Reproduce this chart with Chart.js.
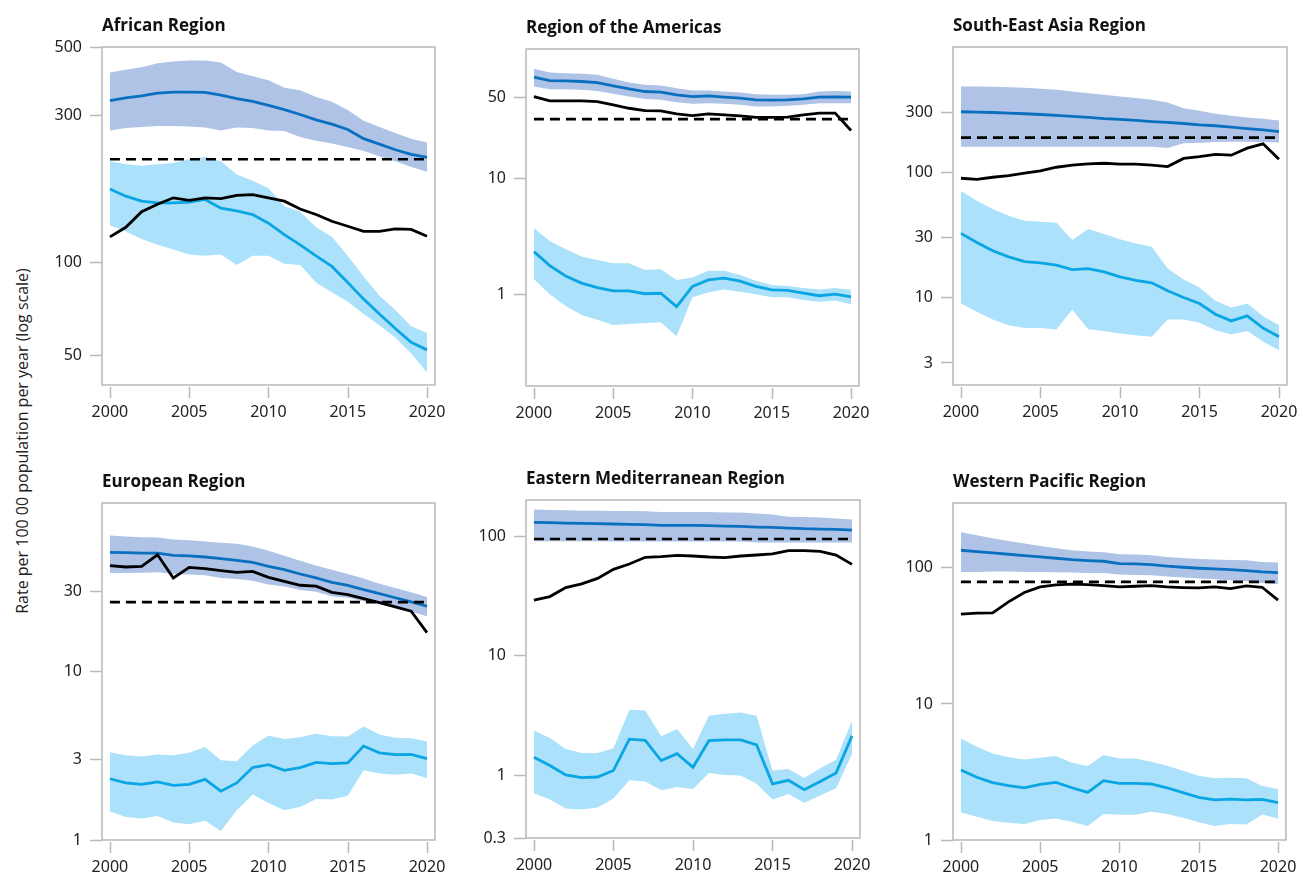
<!DOCTYPE html>
<html>
<head>
<meta charset="utf-8">
<title>TB incidence by WHO region</title>
<script src="https://cdn.jsdelivr.net/npm/chart.js@4.4.1/dist/chart.umd.min.js"></script>
<style>
  html, body { margin: 0; padding: 0; background: #fff; }
  #page { position: relative; width: 1306px; height: 878px; overflow: hidden; }
  #page canvas { position: absolute; }
  #ylab {
    position: absolute; left: 22px; top: 441px;
    transform: translate(-50%, -50%) rotate(-90deg);
    white-space: nowrap; font: 16px "Open Sans", sans-serif; color: #222;
  }
</style>
</head>
<body>
<div id="page">
  <div id="ylab">Rate per 100 00 population per year (log scale)</div>
</div>
<script>
const years = [2000, 2001, 2002, 2003, 2004, 2005, 2006, 2007, 2008, 2009, 2010,
  2011, 2012, 2013, 2014, 2015, 2016, 2017, 2018, 2019, 2020];
const xTicks = [2000, 2005, 2010, 2015, 2020];

// African Region
const afrTicks = [50, 100, 300, 500];
const afrTotalHi = [413, 422, 430, 443, 449, 452, 452, 445, 415, 402, 390, 369, 362, 344, 332, 312, 288, 275, 263, 252, 245];
const afrTotal = [335, 342, 347, 354, 357, 357, 356, 349, 340, 333, 323, 313, 302, 290, 281, 270, 252, 242, 232, 224, 219];
const afrTotalLo = [268, 273, 275, 277, 277, 276, 274, 268, 274, 273, 268, 267, 255, 248, 243, 237, 230, 221, 213, 204, 197];
const afrHivHi = [213, 208, 206, 208, 210, 216, 220, 213, 193, 184, 174, 152, 146, 130, 121, 105, 90, 78, 70, 62, 59];
const afrHiv = [173, 164, 158, 156, 156, 157, 160, 150, 147, 143, 134, 123, 114, 105, 97, 86, 76, 68, 61, 55, 52];
const afrHivLo = [132, 126, 119, 114, 110, 106, 105, 106, 98, 105, 105, 99, 98, 86, 80, 74.5, 68, 62.5, 57, 50.6, 44];
const afrNotif = [121, 130, 146, 154.5, 162, 159, 162, 161, 165, 166, 162, 158, 149, 143, 136, 131, 126, 126, 128.5, 128, 121.5];
const afrMilestone = 216;

// Region of the Americas
const amrTicks = [1, 10, 50];
const amrTotalHi = [87.8, 81.6, 80.5, 79.5, 77.9, 72.0, 66.9, 63.9, 63.1, 59.8, 57.1, 57.1, 56.0, 54.9, 53.1, 52.4, 52.4, 53.1, 56.0, 56.7, 56.0];
const amrTotal = [74.4, 69.6, 69.2, 68.3, 66.9, 62.6, 59.0, 56.0, 55.3, 52.4, 50.7, 51.4, 50.1, 49.1, 47.5, 47.2, 47.5, 48.4, 50.1, 50.4, 50.1];
const amrTotalLo = [61.8, 58.7, 58.7, 57.9, 56.7, 53.5, 50.7, 48.4, 47.5, 45.3, 43.9, 44.4, 43.9, 43.0, 41.6, 41.6, 42.2, 43.0, 44.4, 44.4, 44.4];
const amrHivHi = [3.73, 2.90, 2.46, 2.13, 1.99, 1.87, 1.87, 1.63, 1.66, 1.34, 1.41, 1.61, 1.61, 1.48, 1.32, 1.21, 1.19, 1.14, 1.11, 1.14, 1.10];
const amrHiv = [2.35, 1.78, 1.45, 1.26, 1.15, 1.08, 1.08, 1.02, 1.03, 0.79, 1.18, 1.34, 1.39, 1.31, 1.18, 1.10, 1.09, 1.03, 0.98, 1.01, 0.96];
const amrHivLo = [1.36, 1.01, 0.80, 0.67, 0.61, 0.55, 0.56, 0.57, 0.58, 0.44, 0.95, 1.05, 1.11, 1.06, 1.01, 0.95, 0.95, 0.90, 0.87, 0.89, 0.83];
const amrNotif = [50.7, 46.5, 46.5, 46.5, 45.9, 43.0, 40.2, 38.4, 38.2, 36.0, 34.8, 36.0, 35.3, 34.6, 33.5, 33.5, 33.7, 35.3, 36.5, 36.5, 25.9];
const amrMilestone = 32.4;

// South-East Asia Region
const searTicks = [3, 10, 30, 100, 300];
const searTotalHi = [484, 484, 481, 478, 473, 464, 455, 441, 428, 415, 403, 391, 379, 361, 325, 309, 293, 282, 274, 267, 259];
const searTotal = [304, 302, 300, 296, 293, 289, 284, 279, 274, 268, 264, 259, 254, 250, 245, 239, 235, 229, 223, 218, 211];
const searTotalLo = [160, 160, 160, 160, 160, 160, 160, 160, 160, 160, 160, 160, 160, 156, 170, 172, 174, 175, 175, 174, 173];
const searHivHi = [70.9, 59.3, 50.9, 45.0, 41.0, 40.3, 39.5, 28.7, 35.2, 32.1, 29.1, 27.0, 25.4, 17.0, 13.9, 12.0, 9.4, 8.3, 8.95, 7.08, 6.0];
const searHiv = [32.5, 27.5, 23.6, 21.1, 19.3, 18.9, 18.1, 16.7, 17.0, 16.0, 14.6, 13.7, 13.1, 11.3, 10.0, 8.95, 7.35, 6.5, 7.13, 5.7, 4.85];
const searHivLo = [8.95, 7.68, 6.67, 6.0, 5.7, 5.7, 5.54, 8.0, 5.57, 5.4, 5.15, 5.0, 4.85, 6.67, 6.67, 6.27, 5.48, 5.05, 5.4, 4.42, 3.79];
const searNotif = [89.5, 87.8, 91.2, 94, 98.2, 102.4, 109.6, 114, 116.5, 118, 116, 116, 114, 111, 129, 133, 139, 136.8, 155.6, 168.5, 127];
const searMilestone = 189;

// European Region
const eurTicks = [1, 3, 10, 30];
const eurTotalHi = [64.1, 63.3, 62.7, 62.4, 60.8, 60.2, 59.1, 58.0, 57.3, 55.2, 52.1, 48.6, 45.4, 42.5, 40.2, 37.9, 35.6, 33.2, 31.3, 29.5, 27.7];
const eurTotal = [50.9, 50.7, 50.4, 50.4, 48.9, 48.6, 47.8, 46.7, 45.6, 44.4, 42.1, 40.2, 37.9, 35.9, 33.8, 32.4, 30.6, 29.0, 27.4, 25.9, 24.4];
const eurTotalLo = [38.4, 38.4, 38.6, 38.8, 37.9, 37.6, 37.2, 35.9, 35.4, 34.6, 32.8, 31.9, 30.5, 29.7, 28.0, 27.4, 26.1, 25.2, 23.9, 22.6, 21.3];
const eurHivHi = [3.32, 3.18, 3.13, 3.22, 3.18, 3.29, 3.56, 2.97, 2.93, 3.64, 4.17, 3.98, 4.07, 4.27, 4.13, 4.11, 4.71, 4.23, 4.04, 4.02, 3.84];
const eurHiv = [2.31, 2.18, 2.14, 2.21, 2.11, 2.14, 2.29, 1.95, 2.18, 2.69, 2.80, 2.59, 2.69, 2.89, 2.84, 2.87, 3.61, 3.29, 3.21, 3.22, 3.04];
const eurHivLo = [1.48, 1.37, 1.34, 1.39, 1.27, 1.24, 1.30, 1.13, 1.50, 1.86, 1.66, 1.50, 1.57, 1.75, 1.74, 1.83, 2.59, 2.48, 2.44, 2.48, 2.33];
const eurNotif = [42.5, 41.7, 42.1, 49.3, 35.9, 41.5, 40.8, 39.7, 38.8, 39.3, 36.2, 34.3, 32.5, 32.1, 29.5, 28.6, 27.1, 25.6, 24.2, 22.8, 17.0];
const eurMilestone = 25.8;

// Eastern Mediterranean Region
const emrTicks = [0.3, 1, 10, 100];
const emrTotalHi = [167, 165, 164, 163, 163, 162, 162, 161, 158.6, 158.6, 158.6, 158.6, 157.6, 157.6, 154.6, 151.6, 145, 144, 143, 140, 137.7];
const emrTotal = [130, 129.2, 128.4, 127.6, 126.8, 126, 125.2, 124.3, 122.7, 122.7, 122.7, 122, 121.2, 120.4, 118.9, 118.1, 116.6, 115.1, 114.4, 113.7, 112.2];
const emrTotalLo = [90.5, 90.5, 90.5, 90.5, 90.5, 90, 90, 90, 90, 90, 90, 90, 90, 90, 88.5, 88.5, 88.5, 88.5, 88.5, 88.5, 88.5];
const emrHivHi = [2.37, 2.05, 1.66, 1.54, 1.54, 1.69, 3.53, 3.49, 2.12, 2.44, 1.66, 3.15, 3.27, 3.36, 3.15, 1.10, 1.13, 0.95, 1.15, 1.35, 2.86];
const emrHiv = [1.42, 1.21, 1.01, 0.96, 0.97, 1.10, 2.01, 1.96, 1.33, 1.52, 1.17, 1.95, 1.98, 1.98, 1.80, 0.85, 0.91, 0.76, 0.89, 1.05, 2.14];
const emrHivLo = [0.71, 0.63, 0.53, 0.52, 0.54, 0.64, 0.91, 0.89, 0.75, 0.80, 0.77, 1.05, 1.01, 1.0, 0.85, 0.63, 0.70, 0.59, 0.68, 0.78, 1.51];
const emrNotif = [29.2, 31.2, 37.1, 39.8, 44.3, 52.7, 58.4, 66.4, 67.2, 69.0, 68.1, 66.8, 66.0, 68.1, 69.4, 70.8, 75.4, 75.4, 74.5, 69.4, 58.0];
const emrMilestone = 94.4;

// Western Pacific Region
const wprTicks = [1, 10, 100];
const wprTotalHi = [183, 174, 165, 158, 151, 145, 139.5, 134.8, 131.8, 130.3, 126, 125.3, 123.9, 120.4, 118.4, 116.4, 115.1, 114.5, 113.8, 110.7, 109.4];
const wprTotal = [134.8, 131.8, 128.8, 126, 123.2, 120.4, 117.8, 115.1, 113.2, 111.9, 107.6, 107, 105.8, 102.9, 101.1, 99.4, 98.3, 97.2, 95.6, 93.5, 92.4];
const wprTotalLo = [93.5, 93.5, 94.0, 94.0, 93.5, 93.5, 92.9, 92.4, 91.9, 91.9, 89.3, 88.8, 88.3, 86.4, 84.9, 83.5, 82.6, 81.2, 79.8, 77.6, 75.9];
const wprHivHi = [5.58, 4.85, 4.33, 4.05, 3.91, 4.02, 4.14, 3.70, 3.50, 4.21, 3.98, 3.98, 3.76, 3.52, 3.23, 2.97, 2.84, 2.87, 2.84, 2.49, 2.37];
const wprHiv = [3.27, 2.89, 2.64, 2.51, 2.42, 2.56, 2.65, 2.42, 2.24, 2.73, 2.61, 2.61, 2.58, 2.42, 2.23, 2.06, 1.97, 2.0, 1.97, 1.99, 1.88];
const wprHivLo = [1.59, 1.48, 1.38, 1.34, 1.31, 1.40, 1.44, 1.36, 1.27, 1.55, 1.53, 1.53, 1.61, 1.55, 1.46, 1.35, 1.27, 1.31, 1.30, 1.54, 1.44];
const wprNotif = [45.7, 46.5, 46.7, 56.3, 65.9, 72.5, 75.0, 75.9, 75.4, 74.2, 72.5, 73.3, 74.2, 72.5, 71.7, 71.3, 72.5, 70.5, 73.8, 72.1, 57.9];
const wprMilestone = 78.9;

// colours
const DARK_BAND = '#aec3e6';
const DARK_LINE = '#0a6fbf';
const LIGHT_BAND = '#abe1fa';
const LIGHT_LINE = '#0aa5e3';
const AXIS_GREY = '#b8b8b8';

Chart.defaults.font.family = "'Noto Sans', sans-serif";
Chart.defaults.font.size = 16;
Chart.defaults.color = '#222';

// room around each plot box inside its canvas
const PAD_L = 100, PAD_T = 40, PAD_R = 22, PAD_B = 45;

const panels = [
  { title: 'African Region', box: [102, 47, 442, 385], yMin: 40, yMax: 500, yTicks: afrTicks,
    hi: afrTotalHi, mid: afrTotal, lo: afrTotalLo, hivHi: afrHivHi, hiv: afrHiv, hivLo: afrHivLo, notif: afrNotif, goal: afrMilestone },
  { title: 'Region of the Americas', box: [526, 49, 866, 386], yMin: 0.164, yMax: 130, yTicks: amrTicks,
    hi: amrTotalHi, mid: amrTotal, lo: amrTotalLo, hivHi: amrHivHi, hiv: amrHiv, hivLo: amrHivLo, notif: amrNotif, goal: amrMilestone },
  { title: 'South-East Asia Region', box: [953, 47, 1294, 385], yMin: 2, yMax: 1000, yTicks: searTicks,
    hi: searTotalHi, mid: searTotal, lo: searTotalLo, hivHi: searHivHi, hiv: searHiv, hivLo: searHivLo, notif: searNotif, goal: searMilestone },
  { title: 'European Region', box: [102, 503, 442, 840], yMin: 1, yMax: 100, yTicks: eurTicks,
    hi: eurTotalHi, mid: eurTotal, lo: eurTotalLo, hivHi: eurHivHi, hiv: eurHiv, hivLo: eurHivLo, notif: eurNotif, goal: eurMilestone },
  { title: 'Eastern Mediterranean Region', box: [526, 500, 867, 838], yMin: 0.3, yMax: 200, yTicks: emrTicks,
    hi: emrTotalHi, mid: emrTotal, lo: emrTotalLo, hivHi: emrHivHi, hiv: emrHiv, hivLo: emrHivLo, notif: emrNotif, goal: emrMilestone },
  { title: 'Western Pacific Region', box: [953, 503, 1293, 840], yMin: 1, yMax: 300, yTicks: wprTicks,
    hi: wprTotalHi, mid: wprTotal, lo: wprTotalLo, hivHi: wprHivHi, hiv: wprHiv, hivLo: wprHivLo, notif: wprNotif, goal: wprMilestone }
];

// grey frame round the plot, and x tick marks set a little below it
const framePlugin = {
  id: 'frame',
  beforeDatasetsDraw(chart) {
    const { ctx, chartArea: a } = chart;
    const x = chart.scales.x;
    ctx.save();
    ctx.strokeStyle = AXIS_GREY;
    ctx.lineWidth = 1.5;
    ctx.strokeRect(a.left, a.top, a.right - a.left, a.bottom - a.top);
    ctx.beginPath();
    x.ticks.forEach(function(t) {
      const px = Math.round(x.getPixelForValue(t.value)) + 0.5;
      ctx.moveTo(px, a.bottom + 2);
      ctx.lineTo(px, a.bottom + 13);
    });
    ctx.stroke();
    ctx.restore();
  }
};

function points(values) {
  return years.map(function(yr, i) { return { x: yr, y: values[i] }; });
}

function band(values, fill, colour) {
  return {
    data: points(values), fill: fill, backgroundColor: colour,
    borderColor: 'rgba(0,0,0,0)', borderWidth: 1, pointRadius: 0, order: 5
  };
}

function line(values, colour, order) {
  return {
    data: points(values), fill: false, borderColor: colour,
    borderWidth: 2.8, pointRadius: 0, order: order
  };
}

const page = document.getElementById('page');

panels.forEach(function(p) {
  const [l, t, r, b] = p.box;
  const w = (r - l) + PAD_L + PAD_R;
  const h = (b - t) + PAD_T + PAD_B;
  const cv = document.createElement('canvas');
  cv.width = w;
  cv.height = h;
  cv.style.left = (l - PAD_L) + 'px';
  cv.style.top = (t - PAD_T) + 'px';
  cv.style.width = w + 'px';
  cv.style.height = h + 'px';
  page.appendChild(cv);

  new Chart(cv, {
    type: 'line',
    data: {
      datasets: [
        band(p.lo, false, DARK_BAND),
        band(p.hi, '-1', DARK_BAND),
        band(p.hivLo, false, LIGHT_BAND),
        band(p.hivHi, '-1', LIGHT_BAND),
        line(p.hiv, LIGHT_LINE, 3),
        line(p.mid, DARK_LINE, 2),
        line(p.notif, '#000', 1),
        {
          data: [{ x: 2000, y: p.goal }, { x: 2020, y: p.goal }],
          fill: false, borderColor: '#000', borderWidth: 2.6, borderDash: [10, 6],
          pointRadius: 0, order: 0
        }
      ]
    },
    options: {
      responsive: false,
      animation: false,
      events: [],
      layout: { padding: { left: 0, top: 0, right: PAD_R, bottom: 0 } },
      plugins: {
        legend: { display: false },
        tooltip: { enabled: false },
        title: {
          display: true,
          text: p.title,
          align: 'start',
          fullSize: false,
          color: '#111',
          font: { family: "'Open Sans', sans-serif", size: 17, weight: 'bold', lineHeight: 1.2 },
          padding: { top: 8.5, bottom: 11.1 }
        }
      },
      scales: {
        x: {
          type: 'linear',
          min: 1999.5,
          max: 2020.5,
          afterBuildTicks: function(s) { s.ticks = xTicks.map(function(v) { return { value: v }; }); },
          afterFit: function(s) { s.height = PAD_B; },
          grid: { display: false, drawTicks: false },
          border: { display: false },
          ticks: { padding: 18, maxRotation: 0, autoSkip: false, callback: function(v) { return String(v); } }
        },
        y: {
          type: 'logarithmic',
          min: p.yMin,
          max: p.yMax,
          afterBuildTicks: function(s) { s.ticks = p.yTicks.map(function(v) { return { value: v }; }); },
          afterFit: function(s) { s.width = PAD_L; },
          grid: { drawOnChartArea: false, drawTicks: true, tickLength: 12, tickColor: AXIS_GREY, tickWidth: 1.5 },
          border: { display: false },
          ticks: { padding: 8, autoSkip: false, callback: function(v) { return String(v); } }
        }
      }
    },
    plugins: [framePlugin]
  });
});
</script>
</body>
</html>
